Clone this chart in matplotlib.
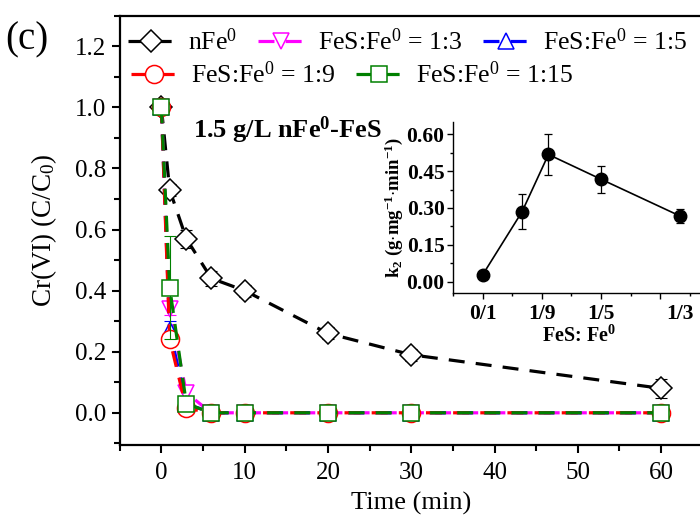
import matplotlib
matplotlib.use('Agg')
import matplotlib.pyplot as plt
from matplotlib.ticker import MultipleLocator

plt.rcParams['font.family'] = ['Liberation Serif', 'DejaVu Serif']
plt.rcParams['mathtext.fontset'] = 'custom'
plt.rcParams['mathtext.rm'] = 'Liberation Serif'
plt.rcParams['mathtext.it'] = 'Liberation Serif:italic'
plt.rcParams['mathtext.bf'] = 'Liberation Serif:bold'

# Cr(VI) removal kinetics, C/C0 vs time
time_min = [0, 1, 3, 6, 10, 20, 30, 60]
c_nfe = [1.0, 0.73, 0.57, 0.44, 0.40, 0.26, 0.19, 0.08]
c_1_3 = [1.0, 0.34, 0.065, 0.0, 0.0, 0.0, 0.0, 0.0]
c_1_5 = [1.0, 0.27, 0.03, 0.0, 0.0, 0.0, 0.0, 0.0]
c_1_9 = [1.0, 0.24, 0.015, 0.0, 0.0, 0.0, 0.0, 0.0]
c_1_15 = [1.0, 0.41, 0.03, 0.0, 0.0, 0.0, 0.0, 0.0]
err_nfe = [0.0, 0.02, 0.03, 0.025, 0.02, 0.02, 0.02, 0.03]
err_1_3 = [0.0, 0.02, 0.02, 0.0, 0.0, 0.0, 0.0, 0.0]
err_1_5 = [0.0, 0.03, 0.02, 0.0, 0.0, 0.0, 0.0, 0.0]
err_1_9 = [0.0, 0.02, 0.015, 0.0, 0.0, 0.0, 0.0, 0.0]
err_1_15 = [0.0, 0.17, 0.02, 0.0, 0.0, 0.0, 0.0, 0.0]

labels = [r'nFe$^\mathrm{0}$', r'FeS:Fe$^\mathrm{0}$ = 1:3', r'FeS:Fe$^\mathrm{0}$ = 1:5',
          r'FeS:Fe$^\mathrm{0}$ = 1:9', r'FeS:Fe$^\mathrm{0}$ = 1:15']
colors = ['black', '#FF00FF', '#0000FF', '#FF0000', '#008000']
markers = ['D', 'v', '^', 'o', 's']
msizes = [11, 12, 12, 13, 11]

# inset: rate constant k2 vs FeS:Fe0 ratio
ratio = [0.0, 1 / 15, 1 / 9, 1 / 5, 1 / 3]
k2 = [0.027, 0.285, 0.518, 0.417, 0.267]
k2_err = [0.01, 0.072, 0.083, 0.056, 0.03]
ratio_ticks = [0.0, 0.1, 0.2, 0.3]
ratio_labels = ['0/1', '1/9', '1/5', '']

fig = plt.figure(figsize=(7, 5.24), dpi=100)
ax = fig.add_axes([0.171, 0.151, 0.833, 0.819])

series = [c_nfe, c_1_3, c_1_5, c_1_9, c_1_15]
errs = [err_nfe, err_1_3, err_1_5, err_1_9, err_1_15]
handles = []
for i, (y, e) in enumerate(zip(series, errs)):
    ax.errorbar(time_min, y, yerr=e, fmt='none', ecolor=colors[i], elinewidth=0.8,
                capsize=4, capthick=0.8, zorder=2 + i)
    ln, = ax.plot(time_min, y, color=colors[i], lw=2.3, linestyle=(0, (5, 3.5)),
                  marker=markers[i], ms=msizes[i], mfc='white', mec=colors[i],
                  mew=1.1, label=labels[i], zorder=2 + i)
    handles.append(ln)

ax.set_xlim(-5, 65)
ax.set_ylim(-0.105, 1.3)
ax.xaxis.set_major_locator(MultipleLocator(10))
ax.xaxis.set_minor_locator(MultipleLocator(5))
ax.yaxis.set_minor_locator(MultipleLocator(0.1))
ax.set_yticks([0.0, 0.2, 0.4, 0.6, 0.8, 1.0, 1.2])
ax.tick_params(which='both', direction='out', width=1.5, labelsize=18, top=False, right=False)
ax.tick_params(axis='x', pad=6)
ax.tick_params(which='major', length=6)
ax.tick_params(which='minor', length=4)
for s in ax.spines.values():
    s.set_linewidth(1.6)
ax.set_xlabel('Time (min)', fontsize=19, labelpad=6)
ax.set_ylabel(r'Cr(VI) (C/C$_\mathrm{0}$)', fontsize=19.5, labelpad=12)

leg_kw = dict(frameon=False, fontsize=18.5, loc='upper left', bbox_transform=fig.transFigure,
              borderpad=0, borderaxespad=0, handlelength=1.8, handletextpad=0.55,
              columnspacing=0.8)
leg1 = ax.legend(handles[:3], labels[:3], ncol=3, bbox_to_anchor=(128 / 700, 1 - 28 / 524),
                 **leg_kw)
ax.add_artist(leg1)
ax.legend(handles[3:], labels[3:], ncol=2, bbox_to_anchor=(131 / 700, 1 - 61 / 524), **leg_kw)

ax.text(193 / 700, 1 - 130 / 524, r'1.5 g/L nFe$^\mathbf{0}$-FeS', transform=fig.transFigure,
        fontsize=19, fontweight='bold', va='center', ha='left')
fig.text(5 / 700, 1 - 40 / 524, '(c)', fontsize=28, va='center', ha='left')

# inset
ins = fig.add_axes([0.647, 0.441, 0.36, 0.326])
ins.errorbar(ratio, k2, yerr=k2_err, fmt='o-', color='black', ms=9, lw=1.2,
             elinewidth=0.9, capsize=3, capthick=0.9)
ins.set_xlim(-0.05, 0.375)
ins.set_ylim(-0.046, 0.65)
ins.set_xticks(ratio_ticks, labels=ratio_labels)
ins.xaxis.set_minor_locator(MultipleLocator(0.05))
ins.set_yticks([0.0, 0.15, 0.30, 0.45, 0.60], labels=['0.00', '0.15', '0.30', '0.45', '0.60'])
ins.yaxis.set_minor_locator(MultipleLocator(0.075))
for lab in ins.get_xticklabels() + ins.get_yticklabels():
    lab.set_fontweight('bold')
ins.tick_params(which='both', direction='out', width=1.0, labelsize=15.5, pad=2)
ins.tick_params(axis='x', pad=4)
ins.tick_params(which='major', length=4)
ins.tick_params(which='minor', length=2.5)
ins.annotate('1/3', xy=(1 / 3, 0), xycoords=ins.get_xaxis_transform(),
             xytext=(0, -8), textcoords='offset points', ha='center', va='top',
             fontsize=15.5, fontweight='bold')
ins.spines['top'].set_visible(False)
ins.spines['right'].set_visible(False)
for s in ('left', 'bottom'):
    ins.spines[s].set_linewidth(1.0)
ins.patch.set_alpha(0)
ins.set_xlabel(r'FeS: Fe$^\mathbf{0}$', fontsize=14.5, fontweight='bold', labelpad=1)
ins.set_ylabel(r'k$_\mathbf{2}$ (g$\cdot$mg$^\mathbf{-1}$$\cdot$min$^\mathbf{-1}$)',
               fontsize=13.5, fontweight='bold', labelpad=1)

fig.savefig('out.png', dpi=100)
